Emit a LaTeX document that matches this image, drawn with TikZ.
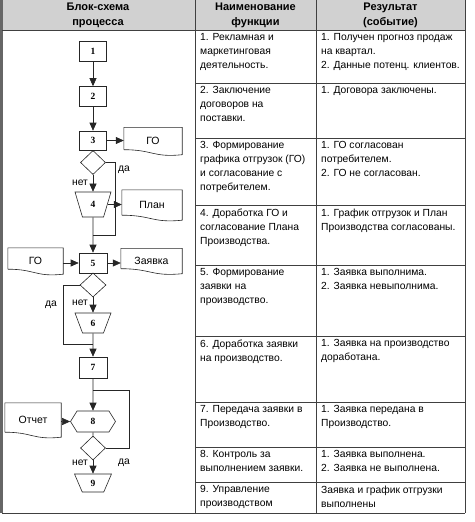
\documentclass[tikz,border=0pt]{standalone}
\usepackage{fontspec}
\setmainfont{Liberation Sans}
\newfontfamily\numfont{Liberation Serif}
\usepackage{tikz}
\usetikzlibrary{shapes.geometric, shapes.symbols, arrows.meta, positioning, calc}
\tikzstyle{arrow} = [->, >={Triangle[length=8pt,width=7pt]}, line width=0.6pt, draw=black!85]
\tikzstyle{link} = [line width=0.6pt, draw=black!85]

\begin{document}
\begin{tikzpicture}[x=1pt, y=1pt,
    tabline/.style={draw=black!75, line width=0.8pt},
    head/.style={align=center, inner sep=0pt, font=\fontsize{11}{14.5}\selectfont\bfseries},
    cell/.style={anchor=north west, align=left, inner sep=0pt, font=\fontsize{10.3}{14}\selectfont},
    numtext/.style={font=\numfont\bfseries\fontsize{9.5}{10}\selectfont},
    block/.style={draw=black!85, line width=0.6pt, rectangle, minimum width=27pt, minimum height=20pt, inner sep=0pt, numtext},
    check/.style={draw=black!85, line width=0.6pt, diamond, minimum width=25pt, minimum height=24pt, inner sep=0pt},
    manual/.style={draw=black!85, line width=0.6pt, trapezium, trapezium left angle=75, trapezium right angle=75, shape border rotate=180, trapezium stretches=true, minimum width=36pt, minimum height=22pt, inner sep=0pt, numtext},
    prep/.style={draw=black!85, line width=0.6pt, signal, signal to=west and east, signal pointer angle=116, minimum width=45pt, minimum height=21pt, inner sep=0pt, numtext},
    doc/.style={minimum width=58pt, minimum height=27pt, inner sep=0pt, font=\fontsize{10.5}{12}\selectfont},
    yesno/.style={inner sep=0pt, font=\fontsize{10.3}{12}\selectfont},
]
    \useasboundingbox (0,0) rectangle (474,-522);

    % Table
    \fill[black!18] (2,0) rectangle (465,-30);
    \draw[line width=3pt, black!60] (1.5,0) -- (1.5,-513);
    \foreach \x in {195,316,465}
        \draw[tabline] (\x,0) -- (\x,-513);
    \draw[tabline] (2,-30) -- (465,-30);
    \draw[tabline] (2,-513) -- (465,-513);
    \foreach \y in {83,138,205,265,336,402,447,482}
        \draw[tabline] (195,-\y) -- (465,-\y);

    % Header
    \node[head] (H-1) at (98,-15.5) {Блок-схема\\процесса};
    \node[head] (H-2) at (255.5,-15.5) {Наименование\\функции};
    \node[head] (H-3) at (390.5,-15.5) {Результат\\(событие)};

    % Rows
    \foreach \y/\f/\r [count=\i] in {
        30/{1. Рекламная и\\маркетинговая\\деятельность.}/{1. Получен прогноз продаж\\на квартал.\\2. Данные потенц. клиентов.},
        83/{2. Заключение\\договоров на\\поставки.}/{1. Договора заключены.},
        138/{3. Формирование\\графика отгрузок (ГО)\\и согласование с\\потребителем.}/{1. ГО согласован\\потребителем.\\2. ГО не согласован.},
        205/{4. Доработка ГО и\\согласование Плана\\Производства.}/{1. График отгрузок и План\\Производства согласованы.},
        265/{5. Формирование\\заявки на\\производство.}/{1. Заявка выполнима.\\2. Заявка невыполнима.},
        336/{6. Доработка заявки\\на производство.}/{1. Заявка на производство\\доработана.},
        402/{7. Передача заявки в\\Производство.}/{1. Заявка передана в\\Производство.},
        447/{8. Контроль за\\выполнением заявки.}/{1. Заявка выполнена.\\2. Заявка не выполнена.},
        482/{9. Управление\\производством}/{Заявка и график отгрузки\\выполнены}}
    {
        \node[cell] (F-\i) at (200,-\y-3.5) {\f};
        \node[cell] (R-\i) at (321,-\y-3.5) {\r};
    }

    % Flow chart
    \node[block] (b1) at (93,-51.5) {1};
    \node[block] (b2) at (93,-96.5) {2};
    \node[block, minimum height=19pt] (b3) at (93,-140.5) {3};
    \node[doc] (go1) at (153,-141) {ГО};
    \node[check] (d1) at (93,-162.5) {};
    \node[manual, minimum height=25pt] (t4) at (93,-204.5) {4};
    \node[doc, minimum width=60pt, minimum height=30pt] (plan) at (152,-205) {План};
    \coordinate (j1) at (93,-235);
    \node[block, minimum width=28pt] (b5) at (93,-263) {5};
    \node[doc, minimum width=55pt, minimum height=26pt] (go2) at (35.5,-261) {ГО};
    \node[doc, minimum width=61pt, minimum height=25pt] (zayv) at (151.5,-261) {Заявка};
    \node[check, minimum width=26pt] (d2) at (93,-285) {};
    \node[manual, minimum height=20pt] (t6) at (93,-323) {6};
    \coordinate (j2) at (93,-344);
    \node[block, minimum width=28pt, minimum height=21pt] (b7) at (93,-367.5) {7};
    \coordinate (j3) at (93,-390);
    \node[prep] (h8) at (93,-421.5) {8};
    \node[doc, minimum width=56pt, minimum height=34pt] (otch) at (33,-420) {Отчет};
    \node[check] (d3) at (93,-448) {};
    \node[manual, minimum width=37pt, minimum height=18pt] (t9) at (93,-483) {9};

    % Documents
    \foreach \d in {go1,plan,go2,zayv,otch}
        \draw[link] ($(\d.south west)+(0,5)$) -- (\d.north west) -- (\d.north east) -- (\d.south east)
            .. controls ($(\d.south)+(0,-3)$) and ($(\d.south)+(0,5)$) .. ($(\d.south west)+(0,5)$);

    % Connections
    \draw[arrow] (b1) -- (b2);
    \draw[arrow] (b2) -- (b3);
    \draw[arrow] (b3) -- (b3 -| go1.west);
    \draw[arrow] (d1) -- (t4);
    \draw[arrow] (t4.east) -- (t4.east -| plan.west);
    \draw[arrow] (t4) -- (b5);
    \draw[arrow] (go2.east |- b5) -- (b5.west);
    \draw[arrow] (b5) -- (b5 -| zayv.west);
    \draw[arrow] (d2) -- (t6);
    \draw[arrow] (t6) -- (b7);
    \draw[arrow] (b7) -- (h8);
    \draw[arrow] (otch.east |- h8) -- (h8.west);
    \draw[link] (h8) -- (d3);
    \draw[arrow] (d3) -- (t9);
    \draw[link] (d1.east) -- ++(9.5,0) |- (j1);
    \draw[link] (d2.west) -- ++(-16,0) |- (j2);
    \draw[link] (d3.east) -- ++(23,0) |- (j3);

    % Labels
    \node[yesno] (n1) at (80,-183) {нет};
    \node[yesno] (y1) at (124,-170) {да};
    \node[yesno] (n2) at (80,-303) {нет};
    \node[yesno] (y2) at (51,-305) {да};
    \node[yesno] (n3) at (80,-463) {нет};
    \node[yesno] (y3) at (124,-463) {да};
\end{tikzpicture}
\end{document}
